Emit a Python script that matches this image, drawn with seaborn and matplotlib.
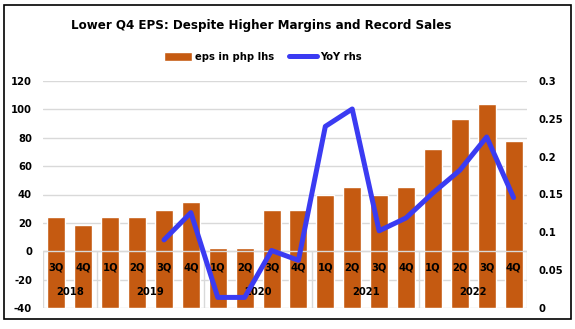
import matplotlib
matplotlib.use("Agg")
import matplotlib.pyplot as plt
import seaborn as sns
import pandas as pd
import numpy as np
from matplotlib.patches import Rectangle

sns.set_theme(style="white")
plt.rcParams['font.family'] = ['DejaVu Sans']
plt.rcParams['text.color'] = 'black'
plt.rcParams['xtick.color'] = 'black'
plt.rcParams['ytick.color'] = 'black'
plt.rcParams['axes.labelcolor'] = 'black'
plt.rcParams['axes.unicode_minus'] = False

quarters = ["3Q", "4Q", "1Q", "2Q", "3Q", "4Q", "1Q", "2Q", "3Q", "4Q",
            "1Q", "2Q", "3Q", "4Q", "1Q", "2Q", "3Q", "4Q"]
years = ["2018", "2019", "2020", "2021", "2022"]
year_spans = [(0, 1), (2, 5), (6, 9), (10, 13), (14, 17)]
eps = [24, 18.5, 24, 24, 29, 34.5, 2.5, 2.5, 29, 29,
       40, 45, 40, 45, 72, 93, 104, 77.5]
yoy = [None, None, None, None, 0.09, 0.126, 0.014, 0.014, 0.076, 0.063,
       0.24, 0.263, 0.102, 0.119, 0.152, 0.182, 0.226, 0.146]

keys = [f"{q}-{i}" for i, q in enumerate(quarters)]
df = pd.DataFrame({"key": keys, "eps": eps})
pos = np.arange(len(keys))
dl = pd.DataFrame({"x": pos, "yoy": yoy}).dropna()

bar_color = "#c55a11"
line_color = "#3b3bf2"
grid_color = "#d9d9d9"
FS = 7.2

fig = plt.figure(figsize=(5.75, 3.29), dpi=100)
ax = fig.add_axes([43/575, 1-308/329, (527-43)/575, (308-81)/329])
ax.set_axisbelow(False)

sns.barplot(data=df, x="key", y="eps", color=bar_color, saturation=1,
            width=0.67, ax=ax, zorder=2, label="eps in php lhs")
# Excel draws the columns from the bottom of the value axis (-40)
base = -40
for p in ax.patches:
    h = p.get_height()
    p.set_y(base)
    p.set_height(h - base)
ax.set_ylim(-40, 120)
ax.set_xlim(-0.5, 17.5)
ax.set_yticks(np.arange(-40, 121, 20))
for yv in np.arange(-40, 121, 20):
    ax.axhline(yv, color=grid_color, lw=1, zorder=0)
ax.axhline(0, color=grid_color, lw=1, zorder=2.5)
for s in ["left", "right", "top", "bottom"]:
    ax.spines[s].set_visible(False)
ax.spines["bottom"].set_position(("data", 0))
ax.set_xticks(pos)
ax.set_xticklabels(quarters, fontsize=FS, fontweight="bold")
ax.tick_params(axis="x", length=0, pad=8)
ax.tick_params(axis="y", length=0, pad=8, labelsize=FS)
for lab in ax.get_yticklabels():
    lab.set_fontweight("bold")
ax.xaxis.set_zorder(3)
ax.set_xlabel("")
ax.set_ylabel("")
ax.vlines([-0.5, 1.5, 5.5, 9.5, 13.5, 17.5], -40, 0, color=grid_color, lw=1, zorder=2.5)
for yr, (a, b) in zip(years, year_spans):
    ax.text((a + b) / 2, -29, yr, ha="center", va="center",
            fontsize=FS, fontweight="bold", zorder=3)

ax2 = ax.twinx()
sns.lineplot(data=dl, x="x", y="yoy", color=line_color, lw=3.6, ax=ax2,
             zorder=4, label="YoY rhs")
ax2.set_ylim(0, 0.3)
ax2.set_yticks([0, 0.05, 0.1, 0.15, 0.2, 0.25, 0.3])
ax2.set_yticklabels(["0", "0.05", "0.1", "0.15", "0.2", "0.25", "0.3"],
                    fontsize=FS, fontweight="bold")
ax2.tick_params(axis="y", length=0, pad=8)
ax2.set_ylabel("")
ax2.set_xlabel("")
for s in ["left", "right", "top", "bottom"]:
    ax2.spines[s].set_visible(False)
if ax2.get_legend():
    ax2.get_legend().remove()
if ax.get_legend():
    ax.get_legend().remove()

h1, l1 = ax.get_legend_handles_labels()
h2, l2 = ax2.get_legend_handles_labels()
fig.legend(h1 + h2, l1 + l2, loc="center", bbox_to_anchor=(263/575, 1-57/329),
           ncol=2, frameon=False, prop={"weight": "bold", "size": FS},
           handlelength=2.8, handleheight=0.9, handletextpad=0.3, columnspacing=1.5)

fig.text(261/575, 1-26/329, "Lower Q4 EPS: Despite Higher Margins and Record Sales",
         ha="center", va="center", fontsize=8.6, fontweight="bold")

fig.patches.append(Rectangle((4/575, 1-319/329), 567/575, 314/329, transform=fig.transFigure,
                             fill=False, edgecolor="black", lw=1.2))

fig.savefig("out.png", dpi=100)
